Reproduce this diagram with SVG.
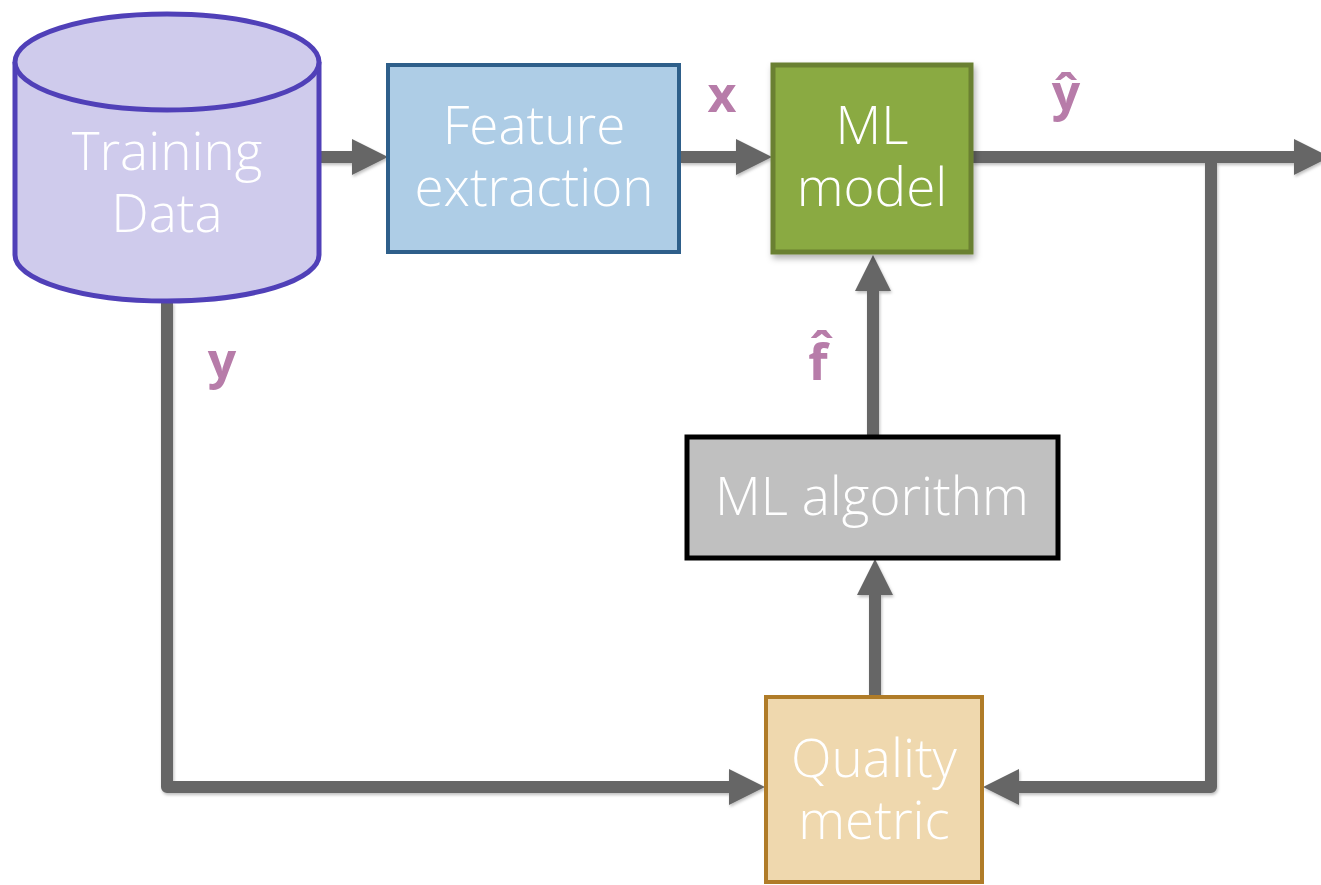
<svg xmlns="http://www.w3.org/2000/svg" width="1321" height="885" viewBox="0 0 1321 885">
  <defs>
    <filter id="shadow" x="-10%" y="-10%" width="130%" height="130%">
      <feDropShadow dx="2" dy="4" stdDeviation="3" flood-color="#000" flood-opacity="0.3"/>
    </filter>
    <filter id="lineShadow" x="-5%" y="-5%" width="110%" height="110%">
      <feDropShadow dx="1" dy="2" stdDeviation="1.5" flood-color="#000" flood-opacity="0.25"/>
    </filter>
    <!-- arrowhead: base sits at the path end, tip 36px beyond -->
    <marker id="arrow" viewBox="0 0 36 36" refX="0" refY="18" markerWidth="36" markerHeight="36" markerUnits="userSpaceOnUse" orient="auto">
      <path d="M0,0 L36,18 L0,36 Z" fill="#666666"/>
    </marker>
  </defs>
  <style>
    .label { font-family: "Open Sans", "Liberation Sans", sans-serif; font-weight: 300; font-size: 53px; fill: #ffffff; text-anchor: middle; }
    .sym { font-family: "Open Sans", "Liberation Sans", sans-serif; font-weight: 700; font-size: 50px; fill: #b77ca9; text-anchor: middle; }
    .wire { fill: none; stroke: #666666; stroke-width: 12; stroke-linejoin: round; }
  </style>
  <rect width="1321" height="885" fill="#ffffff"/>

  <!-- connectors -->
  <g id="connectors" filter="url(#lineShadow)">
    <path class="wire" d="M320,157 L352,157" marker-end="url(#arrow)"/>
    <path class="wire" d="M680,157 L736,157" marker-end="url(#arrow)"/>
    <path class="wire" d="M972,157 L1294,157" marker-end="url(#arrow)"/>
    <path class="wire" d="M1211,157 L1211,787 L1019,787" marker-end="url(#arrow)"/>
    <path class="wire" d="M167,302 L167,787 L729,787" marker-end="url(#arrow)"/>
    <path class="wire" d="M875,696 L875,595" marker-end="url(#arrow)"/>
    <path class="wire" d="M873,436 L873,291" marker-end="url(#arrow)"/>
  </g>

  <!-- Training Data store -->
  <g id="training-data">
    <path d="M15,62 L15,255 A152,46 0 0 0 319,255 L319,62" fill="#cfcbec" stroke="#5040b8" stroke-width="5"/>
    <ellipse cx="167" cy="62" rx="152" ry="48" fill="#cfcbec" stroke="#5040b8" stroke-width="5"/>
    <text class="label"><tspan x="167" y="170">Training</tspan><tspan x="167" y="232">Data</tspan></text>
  </g>

  <!-- Feature extraction -->
  <g id="feature-extraction">
    <rect x="388" y="65" width="291" height="187" fill="#aecde6" stroke="#2e5f8a" stroke-width="4"/>
    <text class="label"><tspan x="534" y="144">Feature</tspan><tspan x="534" y="206">extraction</tspan></text>
  </g>

  <!-- ML model -->
  <g id="ml-model">
    <rect x="773" y="65" width="198" height="187" fill="#8aaa42" stroke="#6a8030" stroke-width="5" filter="url(#shadow)"/>
    <text class="label"><tspan x="872" y="144">ML</tspan><tspan x="872" y="206">model</tspan></text>
  </g>

  <!-- ML algorithm -->
  <g id="ml-algorithm">
    <rect x="687" y="437" width="371" height="121" fill="#c0c0c0" stroke="#000000" stroke-width="5"/>
    <text class="label" x="872" y="515">ML algorithm</text>
  </g>

  <!-- Quality metric -->
  <g id="quality-metric">
    <rect x="766" y="697" width="216" height="185" fill="#efd8ae" stroke="#b07c28" stroke-width="4"/>
    <text class="label"><tspan x="874" y="777">Quality</tspan><tspan x="874" y="839">metric</tspan></text>
  </g>

  <!-- signal labels -->
  <g id="signal-labels">
    <text class="sym" x="722" y="112">x</text>
    <text class="sym" x="1066" y="110">ŷ</text>
    <text class="sym" x="222" y="378">y</text>
    <text class="sym" x="818" y="380">f̂</text>
  </g>
</svg>
